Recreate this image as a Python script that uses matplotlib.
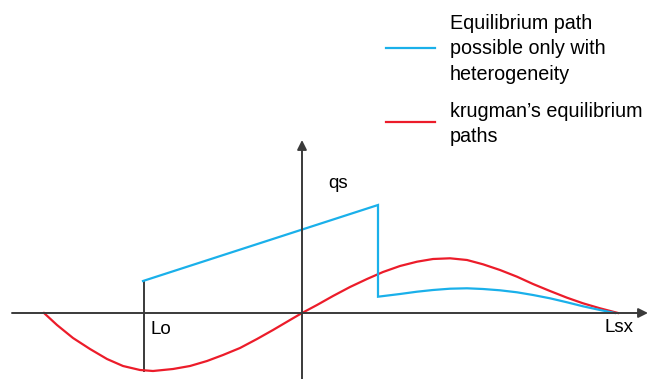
import matplotlib.pyplot as plt

plt.rcParams['font.family'] = ['Liberation Sans', 'DejaVu Sans']

# krugman's equilibrium path
red_x = [-258, -245, -229, -212, -195, -179, -162, -149, -129, -112, -95, -79,
         -62, -45, -29, -12, 0, 15, 31, 48, 65, 81, 98, 115, 131, 148, 165,
         181, 198, 215, 231, 248, 265, 281, 298, 316]
red_y = [0, -12, -25, -36, -46, -53, -57, -58, -56, -53, -48, -42,
         -35, -26, -17, -7, 0, 8, 17, 26, 34, 41, 47, 51.3, 54, 54.7, 53,
         48.7, 43, 36.3, 29, 22, 15.3, 9.7, 4.7, 0]

# path possible only with heterogeneity
blue_x = [-159, 76, 76, 98, 115, 131, 148, 165, 181, 198, 215, 231, 248, 265,
          281, 298, 313]
blue_y = [32, 108, 16.3, 19, 21.3, 23, 24.3, 24.7, 24, 22.7, 20.7, 18, 14.7,
          10.7, 6.7, 3, 0]

lo_x = -158
lo_y = [-57.5, 32]
legend_labels = ['Equilibrium path\npossible only with\nheterogeneity',
                 'krugman\u2019s equilibrium\npaths']

blue = '#1ab0ea'
red = '#ec1c2a'
axis_col = '#3a3a3a'

fig = plt.figure(figsize=(6.48, 3.79), dpi=100)
ax = fig.add_axes([0, 0, 1, 1])
ax.set_xlim(-302, 346)
ax.set_ylim(-66, 313)
ax.axis('off')

# axes with arrows
ax.annotate('', xy=(346, 0), xytext=(-290, 0),
            arrowprops=dict(arrowstyle='-|>', color=axis_col, lw=1.4,
                            mutation_scale=14, shrinkA=0, shrinkB=0))
ax.annotate('', xy=(0, 173), xytext=(0, -70),
            arrowprops=dict(arrowstyle='-|>', color=axis_col, lw=1.4,
                            mutation_scale=14, shrinkA=0, shrinkB=0))

# Lo marker
ax.plot([lo_x, lo_x], lo_y, color=axis_col, lw=1.4)

ax.plot(red_x, red_y, color=red, lw=1.6, solid_joinstyle='round')
ax.plot(blue_x, blue_y, color=blue, lw=1.6, solid_joinstyle='miter')

ax.text(26, 130, 'qs', fontsize=13.5, va='center', ha='left')
ax.text(-152, -16, 'Lo', fontsize=13.5, va='center', ha='left')
ax.text(303, -14, 'Lsx', fontsize=13.5, va='center', ha='left')

# legend drawn by hand
ax.plot([84, 133], [265, 265], color=blue, lw=1.6)
ax.text(148, 299, legend_labels[0], fontsize=14.2, ha='left', va='top',
        linespacing=1.42)
ax.plot([84, 133], [191, 191], color=red, lw=1.6)
ax.text(148, 211, legend_labels[1], fontsize=14.2, ha='left', va='top',
        linespacing=1.42)

fig.savefig('out.png', dpi=100)
